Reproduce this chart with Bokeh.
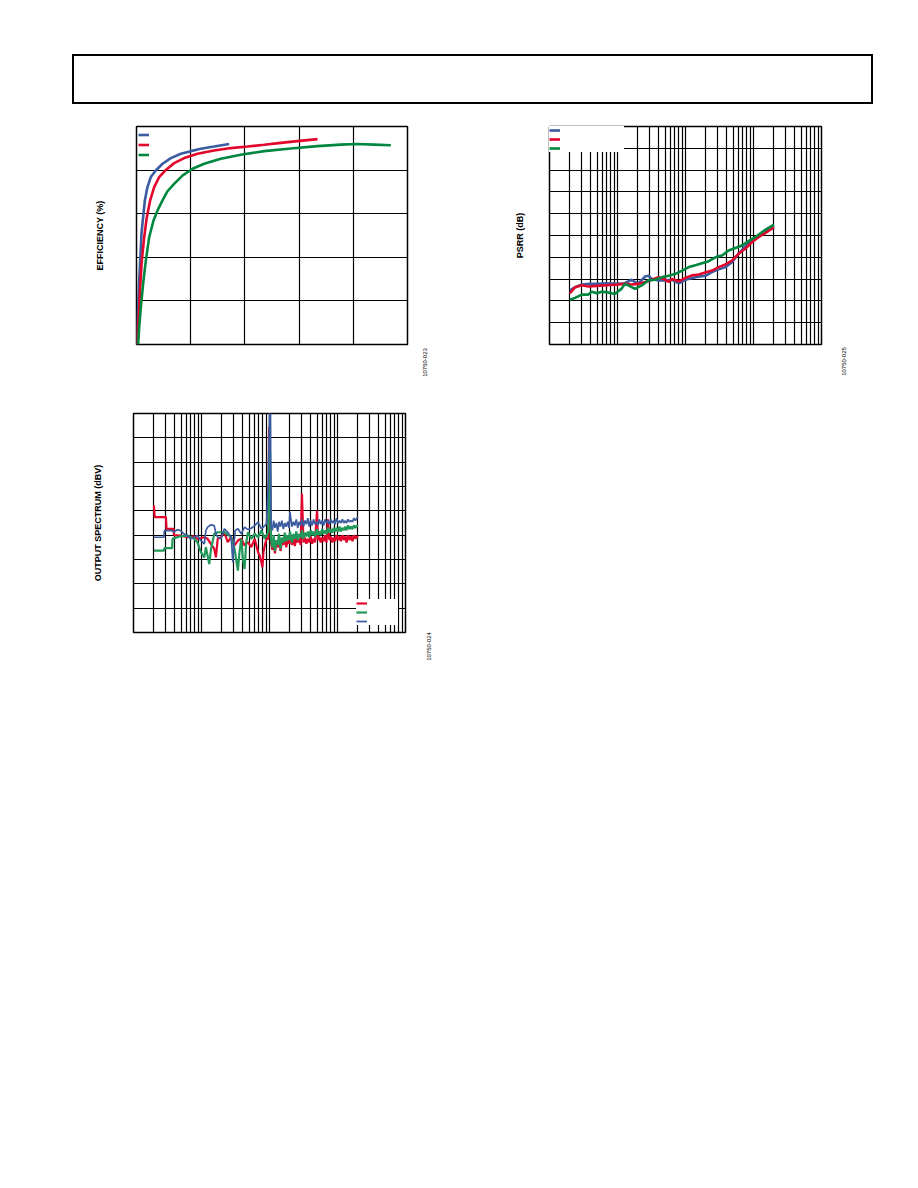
from bokeh.plotting import figure
from bokeh.models import Range1d, FixedTicker, Legend, LegendItem, Div, Spacer
from bokeh.layouts import column, row
from bokeh.embed import file_html
from bokeh.resources import INLINE

# ---------------- data ----------------
# Chart 1: efficiency vs output power (three supply conditions)
eff_x_blue = [0.0, 0.003, 0.015, 0.025, 0.034, 0.046, 0.058, 0.077, 0.101, 0.132, 0.178, 0.240,
              0.317, 0.409, 0.501, 0.593, 0.716, 0.855]
eff_y_blue = [0, 6.4, 17.1, 29.4, 38.5, 50.8, 56.9, 66.1, 72.2, 76.8, 79.8, 82.9,
              85.5, 87.5, 88.7, 89.8, 90.8, 92.0]
eff_x_red = [0.0, 0.009, 0.022, 0.034, 0.049, 0.071, 0.095, 0.126, 0.163, 0.209, 0.271, 0.347,
             0.440, 0.563, 0.716, 0.870, 1.024, 1.178, 1.331, 1.485, 1.670]
eff_y_red = [0, 4.9, 14.1, 26.3, 38.5, 49.2, 58.4, 66.1, 72.2, 76.8, 80.1, 83.2,
             85.5, 87.5, 89.0, 90.1, 90.8, 91.6, 92.5, 93.3, 94.2]
eff_x_green = [0.015, 0.025, 0.040, 0.061, 0.086, 0.117, 0.157, 0.194, 0.240, 0.286, 0.347, 0.424,
               0.517, 0.624, 0.778, 0.962, 1.178, 1.424, 1.670, 1.885, 2.039, 2.192, 2.346]
eff_y_green = [0, 8.0, 17.1, 27.8, 38.5, 49.2, 56.9, 61.5, 66.1, 70.3, 73.7, 77.5,
               80.6, 82.9, 85.2, 87.0, 88.7, 89.9, 91.0, 91.7, 92.0, 91.7, 91.4]
eff_x_ticks = [0, 0.5, 1.0, 1.5, 2.0, 2.5]
eff_y_ticks = [0, 20, 40, 60, 80, 100]

# Chart 2: PSRR vs frequency
psrr_f_blue = [20, 23.8, 30, 38.5, 50, 70, 100, 128, 161, 200, 255, 285, 320, 402, 505, 634, 797,
               1000, 1400, 1962, 2456, 2748, 3849, 4818, 6031, 7550, 9450, 11850, 14830, 20000]
psrr_db_blue = [-75.2, -73.7, -72.5, -72.2, -72.2, -71.9, -72.2, -71.9, -70.3, -72.2, -68.8, -68.5,
                -69.9, -70.6, -70.6, -70.3, -71.9, -70.3, -69.1, -68.5, -66.8, -66.1, -64.5, -62.2,
                -58.4, -55.0, -52.3, -50.0, -47.7, -45.9]
psrr_f_red = [20, 23.8, 29.7, 37.2, 50, 70, 100, 128, 161, 200, 255, 320, 402, 505, 566, 634, 797,
              1000, 1252, 1567, 1962, 2456, 3074, 3849, 4818, 6031, 7550, 9450, 11850, 14830, 20000]
psrr_db_red = [-76.5, -73.7, -72.8, -73.4, -73.1, -72.8, -72.5, -72.2, -72.5, -72.2, -71.3, -70.3,
               -69.1, -70.3, -71.3, -70.0, -71.0, -69.4, -68.3, -67.9, -67.0, -66.1, -64.5, -63.3,
               -61.5, -58.4, -56.1, -53.1, -50.8, -48.9, -46.2]
psrr_f_green = [20, 23.8, 29.7, 37.2, 41.7, 50, 58, 73, 91, 114, 128, 144, 181, 227, 285, 359, 451,
                566, 711, 893, 1119, 1400, 1753, 2195, 2748, 3440, 4306, 5390, 6748, 8447, 10580,
                13260, 16600, 20000]
psrr_db_green = [-79.5, -78.6, -77.1, -77.1, -75.8, -76.5, -75.8, -76.1, -76.8, -74.5, -72.2, -72.9,
                 -74.5, -72.9, -70.6, -70.3, -69.1, -68.5, -67.6, -66.1, -64.5, -63.6, -62.7, -61.8,
                 -60.0, -59.2, -56.9, -55.7, -54.6, -52.6, -50.8, -48.5, -46.5, -45.0]
psrr_y_ticks = [-100, -90, -80, -70, -60, -50, -40, -30, -20, -10, 0]

# Chart 3: output spectrum (1 kHz tone)
# below ~1 kHz, each trace has its own frequency points
spec_f_red_lo = [20, 20.5, 30, 30.6, 39, 39.3, 49, 62, 78, 87, 110, 123, 154, 163, 173, 194, 217,
                 243, 273, 306, 343, 384, 430, 482, 540, 605, 679, 718, 760, 787, 815, 853, 902,
                 960, 985, 1010, 1035]
spec_db_red_lo = [-55.6, -65.2, -65.2, -74.8, -74.8, -80, -80.3, -81.7, -80.9, -83, -81.7, -83,
                  -91.3, -98.2, -83, -81.7, -77.6, -85.8, -81.7, -88.5, -84.4, -83, -88.5, -85.8,
                  -89.9, -83, -94, -96.8, -102.3, -106.4, -94, -88.5, -83, -83, 9, -12, -45]
spec_f_green_lo = [20, 27.9, 28.5, 37, 37.5, 44, 49, 62, 78, 87, 98, 110, 116, 123, 130, 138, 154,
                   173, 217, 273, 306, 343, 362, 384, 406, 430, 455, 482, 540, 605, 679, 760, 853,
                   955, 1000, 1020]
spec_db_green_lo = [-92.7, -92.7, -90.7, -90.7, -83, -81.7, -80.9, -80.3, -83, -85.8, -94, -98.2,
                    -89.9, -96.8, -103.7, -91.3, -78.9, -77.6, -77.6, -81.7, -91.3, -109.2, -94,
                    -83, -99.5, -107.8, -85.8, -77.6, -83, -78.9, -81.7, -76.2, -83, -77.6, -17.1,
                    -11.6]
spec_f_blue_lo = [20, 27.9, 28.5, 37, 39.3, 44, 49, 55, 62, 69.5, 78, 87, 98, 110, 116, 123, 138,
                  154, 163, 173, 194, 217, 230, 243, 273, 289, 299, 313, 343, 384, 430, 482, 540,
                  605, 679, 760, 853, 902, 955, 1000, 1035]
spec_db_blue_lo = [-81.7, -81.7, -76.2, -76.2, -77.6, -75.4, -76.2, -78.9, -80.3, -83, -81.7,
                   -80.3, -84.4, -87.2, -76.2, -73.4, -71.5, -72.1, -78.9, -81.7, -83, -74.8,
                   -76.2, -77.6, -81.7, -102.3, -88.5, -76.2, -74.8, -78.9, -73.4, -75.4, -74.3,
                   -72.1, -69.3, -74.8, -72.1, -70.7, -41.8, 20, 20]
# above 1 kHz, the three traces share frequency points
spec_f_hi = [1050, 1100, 1150, 1200, 1260, 1320, 1380, 1450, 1520, 1600, 1680, 1760, 1850, 1940,
             2000, 2140, 2250, 2360, 2480, 2600, 2730, 2870, 3000, 3160, 3320, 3490, 3660, 3840,
             4030, 4230, 4440, 4660, 5000, 5130, 5390, 5660, 5940, 6240, 6550, 6880, 7250, 7580,
             7960, 8360, 8780, 9220, 9680, 10200, 10700, 11200, 11800, 12400, 13000, 13600,
             14300, 15000, 15800, 16600, 17400, 18300, 19200, 20000]
spec_db_red_hi = [-86, -92, -84, -95, -86, -90, -83, -93, -85, -88, -82, -90, -84, -87, -80, -88,
                  -83, -89, -82, -86, -83, -88, -46, -86, -82, -87, -83, -86, -81, -87, -83, -86,
                  -60, -84, -81, -86, -82, -85, -80, -86, -67, -84, -81, -86, -82, -85, -80, -84,
                  -81, -85, -80, -84, -81, -86, -80, -84, -81, -85, -80, -83, -81, -82]
spec_db_green_hi = [-83, -90, -80, -93, -84, -88, -79, -91, -82, -86, -78, -85, -80, -84, -77, -86,
                    -79, -83, -77, -84, -79, -82, -76, -83, -78, -81, -77, -82, -76, -80, -77, -81,
                    -75, -80, -77, -80, -75, -79, -76, -79, -74, -78, -75, -78, -74, -77, -74, -77,
                    -73, -77, -74, -76, -73, -76, -72, -75, -73, -75, -72, -74, -72, -73]
spec_db_blue_hi = [-72, -76, -68, -74, -70, -77, -69, -73, -68, -75, -70, -73, -69, -74, -61, -73,
                   -69, -72, -67, -74, -69, -72, -67, -73, -68, -71, -66, -73, -68, -72, -67, -71,
                   -69, -72, -67, -71, -68, -72, -67, -70, -68, -71, -67, -70, -68, -71, -66, -70,
                   -68, -70, -67, -70, -68, -70, -67, -69, -68, -69, -66, -68, -66, -65]
spec_y_ticks = [-160, -140, -120, -100, -80, -60, -40, -20, 0, 20]

freq_grid = [m * 10 ** d for d in range(1, 5) for m in range(1, 10)] + [100000]

figure_ids = ["10750-023", "10750-025", "10750-024"]

# ---------------- styling ----------------
BLUE = "#3b5ca0"
RED = "#e2062c"
GREEN = "#00873f"
GREEN3 = "#22995a"
FONT = "Liberation Sans"


def make_fig(width, height, mbl, mbr, mbt, mbb, x_type, xr, yr, xt, yt, ylabel, standoff):
    p = figure(width=width, height=height, x_axis_type=x_type, x_range=xr, y_range=yr,
               output_backend="svg", toolbar_location=None, x_axis_location=None,
               y_axis_location="left", min_border_left=mbl, min_border_right=mbr,
               min_border_top=mbt, min_border_bottom=mbb)
    p.outline_line_color = "black"
    p.outline_line_width = 1.5
    p.outline_line_alpha = 1
    p.xgrid.ticker = FixedTicker(ticks=xt)
    p.ygrid.ticker = FixedTicker(ticks=yt)
    p.grid.grid_line_color = "black"
    p.grid.grid_line_width = 1.2
    p.grid.grid_line_alpha = 1
    ax = p.yaxis[0]
    ax.ticker = FixedTicker(ticks=[])
    ax.axis_line_color = None
    ax.major_tick_line_color = None
    ax.minor_tick_line_color = None
    ax.major_tick_out = 0
    ax.major_tick_in = 0
    ax.major_label_standoff = 0
    ax.axis_label = ylabel
    ax.axis_label_text_font = FONT
    ax.axis_label_text_font_style = "bold"
    ax.axis_label_text_font_size = "9px"
    ax.axis_label_text_color = "black"
    ax.axis_label_standoff = standoff
    return p


def id_fig(text, h=40):
    # tiny figure whose (rotated) axis title carries the figure ID
    q = figure(width=16, height=h, output_backend="svg", toolbar_location=None,
               x_axis_location=None, y_axis_location="left", min_border_left=12,
               min_border_right=2, min_border_top=0, min_border_bottom=0,
               x_range=Range1d(0, 1), y_range=Range1d(0, 1))
    q.outline_line_color = None
    q.grid.visible = False
    ax = q.yaxis[0]
    ax.ticker = FixedTicker(ticks=[])
    ax.axis_line_color = None
    ax.major_tick_line_color = None
    ax.minor_tick_line_color = None
    ax.major_tick_out = 0
    ax.major_tick_in = 0
    ax.major_label_standoff = 0
    ax.axis_label = text
    ax.axis_label_text_font = FONT
    ax.axis_label_text_font_style = "normal"
    ax.axis_label_text_font_size = "6px"
    ax.axis_label_text_color = "black"
    ax.axis_label_standoff = 0
    return q


def add_legend(p, renderers, location, padding, spacing, gh, label_width, bg_alpha):
    items = [LegendItem(label="", renderers=[r]) for r in renderers]
    leg = Legend(items=items, location=location, margin=0, padding=padding, spacing=spacing,
                 glyph_width=11, glyph_height=gh, label_height=gh, label_width=label_width,
                 label_standoff=3, label_text_font_size="5px", border_line_color=None,
                 background_fill_color="white", background_fill_alpha=bg_alpha)
    p.add_layout(leg)


# Chart 1
p1 = make_fig(342, 286, 64, 7, 22, 46, "linear", Range1d(0, 2.5), Range1d(0, 100),
              eff_x_ticks, eff_y_ticks, "EFFICIENCY (%)", 32)
r1b = p1.line(eff_x_blue, eff_y_blue, line_color=BLUE, line_width=2.6)
r1r = p1.line(eff_x_red, eff_y_red, line_color=RED, line_width=2.6)
r1g = p1.line(eff_x_green, eff_y_green, line_color=GREEN, line_width=2.6)
add_legend(p1, [r1b, r1r, r1g], (2, 185), 2, 1, 9, 20, 0.0)

# Chart 2
p2 = make_fig(373, 286, 89, 12, 22, 46, "log", Range1d(10, 100000), Range1d(-100, 0),
              freq_grid, psrr_y_ticks, "PSRR (dB)", 25)
r2b = p2.line(psrr_f_blue, psrr_db_blue, line_color=BLUE, line_width=2.6)
r2r = p2.line(psrr_f_red, psrr_db_red, line_color=RED, line_width=2.6)
r2g = p2.line(psrr_f_green, psrr_db_green, line_color=GREEN, line_width=2.6)
add_legend(p2, [r2b, r2r, r2g], "top_left", 3, 1, 8, 61, 1.0)

# Chart 3
p3 = make_fig(346, 290, 61, 13, 23, 48, "log", Range1d(10, 100000), Range1d(-160, 20),
              freq_grid, spec_y_ticks, "OUTPUT SPECTRUM (dBV)", 31)
r3r = p3.line(spec_f_red_lo + spec_f_hi, spec_db_red_lo + spec_db_red_hi,
              line_color=RED, line_width=2.2)
r3g = p3.line(spec_f_green_lo + spec_f_hi, spec_db_green_lo + spec_db_green_hi,
              line_color=GREEN3, line_width=2.2)
r3b = p3.line(spec_f_blue_lo + spec_f_hi, spec_db_blue_lo + spec_db_blue_hi,
              line_color=BLUE, line_width=1.7)
add_legend(p3, [r3r, r3g, r3b], (223, 7), 2, 1, 8, 28, 1.0)

header = Div(text="", width=801, height=50, margin=0,
             styles={"border": "2px solid black", "box-sizing": "border-box"})

id1 = column(Spacer(width=16, height=238), id_fig(figure_ids[0]))
id2 = column(Spacer(width=16, height=237), id_fig(figure_ids[1]))
id3 = column(Spacer(width=16, height=236), id_fig(figure_ids[2]))

layout = column(
    Spacer(width=880, height=54),
    row(Spacer(width=72, height=50), header),
    row(Spacer(width=72, height=286), p1, id1, Spacer(width=30, height=286), p2, id2),
    row(Spacer(width=72, height=290), p3, id3),
)

open("out.html", "w").write(file_html(layout, INLINE))
